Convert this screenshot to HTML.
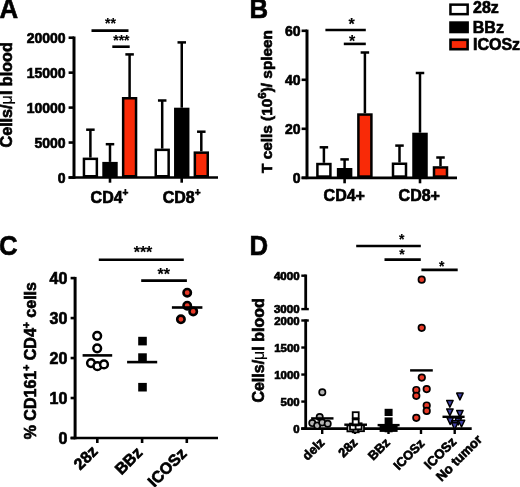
<!DOCTYPE html>
<html><head><meta charset="utf-8"><style>
html,body{margin:0;padding:0;background:#fff;overflow:hidden;width:520px;height:487px;}
svg{display:block;will-change:transform;}
text{font-family:"Liberation Sans",sans-serif;font-weight:bold;fill:#000;stroke:#000;stroke-width:0.65px;}
</style></head><body>
<svg width="520" height="487" viewBox="0 0 520 487">
<rect width="520" height="487" fill="#fff"/>
<text transform="translate(-0.6,17.7) scale(0.92,1)" font-size="28" text-anchor="start">A</text>
<line x1="74" y1="36.5" x2="74" y2="178.8" stroke="#000" stroke-width="3"/>
<line x1="68.6" y1="177.5" x2="74" y2="177.5" stroke="#000" stroke-width="2.6"/>
<text transform="translate(65.6,182.5)" font-size="14" text-anchor="end">0</text>
<line x1="68.6" y1="142.55" x2="74" y2="142.55" stroke="#000" stroke-width="2.6"/>
<text transform="translate(65.6,147.55)" font-size="14" text-anchor="end">5000</text>
<line x1="68.6" y1="107.6" x2="74" y2="107.6" stroke="#000" stroke-width="2.6"/>
<text transform="translate(65.6,112.6)" font-size="14" text-anchor="end">10000</text>
<line x1="68.6" y1="72.64999999999999" x2="74" y2="72.64999999999999" stroke="#000" stroke-width="2.6"/>
<text transform="translate(65.6,77.64999999999999)" font-size="14" text-anchor="end">15000</text>
<line x1="68.6" y1="37.69999999999999" x2="74" y2="37.69999999999999" stroke="#000" stroke-width="2.6"/>
<text transform="translate(65.6,42.69999999999999)" font-size="14" text-anchor="end">20000</text>
<line x1="68.6" y1="177.5" x2="218" y2="177.5" stroke="#000" stroke-width="2.7"/>
<line x1="110" y1="177.5" x2="110" y2="182.7" stroke="#000" stroke-width="2.6"/>
<line x1="181.7" y1="177.5" x2="181.7" y2="182.7" stroke="#000" stroke-width="2.6"/>
<line x1="90.4" y1="129.7" x2="90.4" y2="157.6" stroke="#000" stroke-width="2.5"/>
<line x1="86.15" y1="129.7" x2="94.65" y2="129.7" stroke="#000" stroke-width="2.5"/>
<rect x="83.95" y="158.85" width="12.90" height="17.40" fill="#fff" stroke="#000" stroke-width="2.5"/>
<line x1="110" y1="144.2" x2="110" y2="161.9" stroke="#000" stroke-width="2.5"/>
<line x1="105.75" y1="144.2" x2="114.25" y2="144.2" stroke="#000" stroke-width="2.5"/>
<rect x="102.30" y="161.90" width="15.40" height="15.60" fill="#000"/>
<line x1="129.6" y1="54.4" x2="129.6" y2="97" stroke="#000" stroke-width="2.5"/>
<line x1="125.35" y1="54.4" x2="133.85" y2="54.4" stroke="#000" stroke-width="2.5"/>
<rect x="123.15" y="98.25" width="12.90" height="78.00" fill="#f92a07" stroke="#000" stroke-width="2.5"/>
<line x1="162.2" y1="100.5" x2="162.2" y2="148.6" stroke="#000" stroke-width="2.5"/>
<line x1="157.95" y1="100.5" x2="166.45" y2="100.5" stroke="#000" stroke-width="2.5"/>
<rect x="155.75" y="149.85" width="12.90" height="26.40" fill="#fff" stroke="#000" stroke-width="2.5"/>
<line x1="181.75" y1="42.4" x2="181.75" y2="107.7" stroke="#000" stroke-width="2.5"/>
<line x1="177.5" y1="42.4" x2="186.0" y2="42.4" stroke="#000" stroke-width="2.5"/>
<rect x="174.05" y="107.70" width="15.40" height="69.80" fill="#000"/>
<line x1="201.3" y1="131.7" x2="201.3" y2="151.4" stroke="#000" stroke-width="2.5"/>
<line x1="197.05" y1="131.7" x2="205.55" y2="131.7" stroke="#000" stroke-width="2.5"/>
<rect x="194.85" y="152.65" width="12.90" height="23.60" fill="#f92a07" stroke="#000" stroke-width="2.5"/>
<line x1="91.5" y1="30.6" x2="128.5" y2="30.6" stroke="#000" stroke-width="2.6"/>
<line x1="112.3" y1="46.7" x2="129.7" y2="46.7" stroke="#000" stroke-width="2.6"/>
<text transform="translate(110.5,27.9)" font-size="14" text-anchor="middle" style="stroke-width:0.15px">**</text>
<text transform="translate(121.4,45.4)" font-size="14" text-anchor="middle" style="stroke-width:0.15px">***</text>
<text x="90.6" y="202.6" font-size="16">CD4<tspan font-size="10" dy="-7">+</tspan></text>
<text x="162.7" y="202.9" font-size="16">CD8<tspan font-size="10" dy="-7">+</tspan></text>
<text transform="translate(12.4,147.5) rotate(-90)" font-size="16.15" text-anchor="start">Cells/<tspan font-weight="normal" style="stroke-width:0.15px">μ</tspan>l blood</text>
<text transform="translate(249.6,17.7) scale(0.92,1)" font-size="28" text-anchor="start">B</text>
<line x1="307" y1="29.6" x2="307" y2="179.10000000000002" stroke="#000" stroke-width="3"/>
<line x1="301.6" y1="177.8" x2="307" y2="177.8" stroke="#000" stroke-width="2.6"/>
<text transform="translate(300.6,182.8)" font-size="14" text-anchor="end">0</text>
<line x1="301.6" y1="128.8" x2="307" y2="128.8" stroke="#000" stroke-width="2.6"/>
<text transform="translate(300.6,133.8)" font-size="14" text-anchor="end">20</text>
<line x1="301.6" y1="79.80000000000001" x2="307" y2="79.80000000000001" stroke="#000" stroke-width="2.6"/>
<text transform="translate(300.6,84.80000000000001)" font-size="14" text-anchor="end">40</text>
<line x1="301.6" y1="30.80000000000001" x2="307" y2="30.80000000000001" stroke="#000" stroke-width="2.6"/>
<text transform="translate(300.6,35.80000000000001)" font-size="14" text-anchor="end">60</text>
<line x1="301.6" y1="177.8" x2="457" y2="177.8" stroke="#000" stroke-width="2.7"/>
<line x1="344.6" y1="177.8" x2="344.6" y2="183.3" stroke="#000" stroke-width="2.6"/>
<line x1="420" y1="177.8" x2="420" y2="183.3" stroke="#000" stroke-width="2.6"/>
<line x1="323.9" y1="147.3" x2="323.9" y2="162.8" stroke="#000" stroke-width="2.5"/>
<line x1="319.65" y1="147.3" x2="328.15" y2="147.3" stroke="#000" stroke-width="2.5"/>
<rect x="317.40" y="164.05" width="13.00" height="12.50" fill="#fff" stroke="#000" stroke-width="2.5"/>
<line x1="344.6" y1="159.4" x2="344.6" y2="168" stroke="#000" stroke-width="2.5"/>
<line x1="340.35" y1="159.4" x2="348.85" y2="159.4" stroke="#000" stroke-width="2.5"/>
<rect x="336.85" y="168.00" width="15.50" height="9.80" fill="#000"/>
<line x1="364.9" y1="52.5" x2="364.9" y2="113.3" stroke="#000" stroke-width="2.5"/>
<line x1="360.65" y1="52.5" x2="369.15" y2="52.5" stroke="#000" stroke-width="2.5"/>
<rect x="358.40" y="114.55" width="13.00" height="62.00" fill="#f92a07" stroke="#000" stroke-width="2.5"/>
<line x1="399.5" y1="145.6" x2="399.5" y2="162.5" stroke="#000" stroke-width="2.5"/>
<line x1="395.25" y1="145.6" x2="403.75" y2="145.6" stroke="#000" stroke-width="2.5"/>
<rect x="393.00" y="163.75" width="13.00" height="12.80" fill="#fff" stroke="#000" stroke-width="2.5"/>
<line x1="420" y1="73" x2="420" y2="132.7" stroke="#000" stroke-width="2.5"/>
<line x1="415.75" y1="73" x2="424.25" y2="73" stroke="#000" stroke-width="2.5"/>
<rect x="412.25" y="132.70" width="15.50" height="45.10" fill="#000"/>
<line x1="440.5" y1="157.5" x2="440.5" y2="166.2" stroke="#000" stroke-width="2.5"/>
<line x1="436.25" y1="157.5" x2="444.75" y2="157.5" stroke="#000" stroke-width="2.5"/>
<rect x="434.00" y="167.45" width="13.00" height="9.10" fill="#f92a07" stroke="#000" stroke-width="2.5"/>
<line x1="325.4" y1="30" x2="365.8" y2="30" stroke="#000" stroke-width="2.6"/>
<line x1="343.8" y1="43.9" x2="365.8" y2="43.9" stroke="#000" stroke-width="2.6"/>
<text transform="translate(351.6,30)" font-size="16" text-anchor="middle" style="stroke-width:0.15px">*</text>
<text transform="translate(352,46.8)" font-size="16" text-anchor="middle" style="stroke-width:0.15px">*</text>
<text x="323.6" y="200.6" font-size="16">CD4+</text>
<text x="398.6" y="200.6" font-size="16">CD8+</text>
<text transform="translate(272,172.9) rotate(-90)" font-size="15.35">T cells (10<tspan font-size="11.5" dy="-6">6</tspan><tspan dy="6">)/ spleen</tspan></text>
<rect x="450.45" y="4.65" width="17.20" height="9.50" fill="#fff" stroke="#000" stroke-width="2.5"/>
<rect x="449.20" y="21.30" width="19.70" height="12.00" fill="#000"/>
<rect x="450.50" y="39.80" width="17.10" height="9.40" fill="#f92a07" stroke="#000" stroke-width="2.6"/>
<text transform="translate(473,13.1)" font-size="16" text-anchor="start">28z</text>
<text transform="translate(472.8,32.8)" font-size="16" text-anchor="start">BBz</text>
<text transform="translate(473,49.6)" font-size="16" text-anchor="start">ICOSz</text>
<text transform="translate(-0.9,255.4) scale(0.92,1)" font-size="28" text-anchor="start">C</text>
<line x1="75.1" y1="276.90000000000003" x2="75.1" y2="439.3" stroke="#000" stroke-width="3"/>
<line x1="70.6" y1="438.0" x2="75.1" y2="438.0" stroke="#000" stroke-width="2.6"/>
<text transform="translate(67.4,444.1)" font-size="16" text-anchor="end">0</text>
<line x1="70.6" y1="398.025" x2="75.1" y2="398.025" stroke="#000" stroke-width="2.6"/>
<text transform="translate(67.4,404.125)" font-size="16" text-anchor="end">10</text>
<line x1="70.6" y1="358.05" x2="75.1" y2="358.05" stroke="#000" stroke-width="2.6"/>
<text transform="translate(67.4,364.15000000000003)" font-size="16" text-anchor="end">20</text>
<line x1="70.6" y1="318.07500000000005" x2="75.1" y2="318.07500000000005" stroke="#000" stroke-width="2.6"/>
<text transform="translate(67.4,324.17500000000007)" font-size="16" text-anchor="end">30</text>
<line x1="70.6" y1="278.1" x2="75.1" y2="278.1" stroke="#000" stroke-width="2.6"/>
<text transform="translate(67.4,284.20000000000005)" font-size="16" text-anchor="end">40</text>
<line x1="70.6" y1="438" x2="218" y2="438" stroke="#000" stroke-width="2.7"/>
<line x1="97.3" y1="438" x2="97.3" y2="443" stroke="#000" stroke-width="2.6"/>
<line x1="142.1" y1="438" x2="142.1" y2="443" stroke="#000" stroke-width="2.6"/>
<line x1="186.8" y1="438" x2="186.8" y2="443" stroke="#000" stroke-width="2.6"/>
<circle cx="97.2" cy="335.8" r="3.85" fill="#fff" stroke="#000" stroke-width="2.5"/>
<circle cx="97.2" cy="348.3" r="3.85" fill="#fff" stroke="#000" stroke-width="2.5"/>
<circle cx="91" cy="363.1" r="3.85" fill="#fff" stroke="#000" stroke-width="2.5"/>
<circle cx="97.4" cy="366.2" r="3.85" fill="#fff" stroke="#000" stroke-width="2.5"/>
<circle cx="104" cy="364.4" r="3.85" fill="#fff" stroke="#000" stroke-width="2.5"/>
<line x1="82.6" y1="355.4" x2="112.2" y2="355.4" stroke="#000" stroke-width="2.6"/>
<rect x="138.20" y="336.80" width="8.60" height="8.60" fill="#000"/>
<rect x="138.20" y="353.30" width="8.60" height="8.60" fill="#000"/>
<rect x="138.20" y="382.90" width="8.60" height="8.60" fill="#000"/>
<line x1="127.1" y1="362.1" x2="157.2" y2="362.1" stroke="#000" stroke-width="2.6"/>
<circle cx="187.2" cy="292.7" r="3.70" fill="#e83a28" stroke="#000" stroke-width="2.6"/>
<circle cx="187.2" cy="305.7" r="3.70" fill="#e83a28" stroke="#000" stroke-width="2.6"/>
<circle cx="193.2" cy="311.4" r="3.70" fill="#e83a28" stroke="#000" stroke-width="2.6"/>
<circle cx="180.9" cy="319.3" r="3.70" fill="#e83a28" stroke="#000" stroke-width="2.6"/>
<line x1="171.9" y1="307.5" x2="202.4" y2="307.5" stroke="#000" stroke-width="2.6"/>
<line x1="98.8" y1="259.8" x2="183.8" y2="259.8" stroke="#000" stroke-width="2.6"/>
<line x1="141.2" y1="280.6" x2="186.9" y2="280.6" stroke="#000" stroke-width="2.6"/>
<text transform="translate(143,258.2)" font-size="16" text-anchor="middle" style="stroke-width:0.15px">***</text>
<text transform="translate(163.7,280.2)" font-size="16" text-anchor="middle" style="stroke-width:0.15px">**</text>
<text transform="translate(36.2,439.3) rotate(-90)" font-size="16">% CD161<tspan font-size="10.5" dy="-6.5">+</tspan><tspan dy="6.5"> CD4</tspan><tspan font-size="10.5" dy="-6.5">+</tspan><tspan dy="6.5"> cells</tspan></text>
<text transform="translate(98.6,452.4) rotate(-45)" font-size="16" text-anchor="end">28z</text>
<text transform="translate(143.4,453.6) rotate(-45)" font-size="16" text-anchor="end">BBz</text>
<text transform="translate(187.6,454.6) rotate(-45)" font-size="16" text-anchor="end">ICOSz</text>
<text transform="translate(249.6,255.3) scale(0.92,1)" font-size="28" text-anchor="start">D</text>
<line x1="305.7" y1="274.5" x2="305.7" y2="310" stroke="#000" stroke-width="2.8"/>
<line x1="301.3" y1="275.7" x2="305.7" y2="275.7" stroke="#000" stroke-width="2.4"/>
<line x1="301.3" y1="309.1" x2="308.8" y2="309.1" stroke="#000" stroke-width="2.4"/>
<text transform="translate(299.6,279.6) scale(1.1,1)" font-size="10.5" text-anchor="end">4000</text>
<text transform="translate(299.6,313) scale(1.1,1)" font-size="10.5" text-anchor="end">3000</text>
<line x1="305.7" y1="319.4" x2="305.7" y2="429.90000000000003" stroke="#000" stroke-width="2.8"/>
<line x1="301.3" y1="320.5" x2="308.8" y2="320.5" stroke="#000" stroke-width="2.4"/>
<line x1="301.3" y1="428.6" x2="305.7" y2="428.6" stroke="#000" stroke-width="2.4"/>
<text transform="translate(299.6,432.6) scale(1.06,1)" font-size="10.8" text-anchor="end">0</text>
<line x1="301.3" y1="401.57500000000005" x2="305.7" y2="401.57500000000005" stroke="#000" stroke-width="2.4"/>
<text transform="translate(299.6,405.57500000000005) scale(1.06,1)" font-size="10.8" text-anchor="end">500</text>
<line x1="301.3" y1="374.55" x2="305.7" y2="374.55" stroke="#000" stroke-width="2.4"/>
<text transform="translate(299.6,378.55) scale(1.06,1)" font-size="10.8" text-anchor="end">1000</text>
<line x1="301.3" y1="347.525" x2="305.7" y2="347.525" stroke="#000" stroke-width="2.4"/>
<text transform="translate(299.6,351.525) scale(1.06,1)" font-size="10.8" text-anchor="end">1500</text>
<text transform="translate(299.6,324.5) scale(1.06,1)" font-size="10.8" text-anchor="end">2000</text>
<line x1="301.2" y1="428.6" x2="471.7" y2="428.6" stroke="#000" stroke-width="2.7"/>
<line x1="322.2" y1="428.6" x2="322.2" y2="434" stroke="#000" stroke-width="2.4"/>
<line x1="355" y1="428.6" x2="355" y2="434" stroke="#000" stroke-width="2.4"/>
<line x1="388.5" y1="428.6" x2="388.5" y2="434" stroke="#000" stroke-width="2.4"/>
<line x1="421" y1="428.6" x2="421" y2="434" stroke="#000" stroke-width="2.4"/>
<line x1="454.7" y1="428.6" x2="454.7" y2="434" stroke="#000" stroke-width="2.4"/>
<circle cx="322.3" cy="392.2" r="3.15" fill="#b4b4b4" stroke="#000" stroke-width="1.7"/>
<circle cx="319.7" cy="417" r="3.15" fill="#b4b4b4" stroke="#000" stroke-width="1.7"/>
<circle cx="312.3" cy="423.1" r="3.15" fill="#b4b4b4" stroke="#000" stroke-width="1.7"/>
<circle cx="317.2" cy="425.6" r="3.15" fill="#b4b4b4" stroke="#000" stroke-width="1.7"/>
<circle cx="322.2" cy="422.5" r="3.15" fill="#b4b4b4" stroke="#000" stroke-width="1.7"/>
<circle cx="327.7" cy="423.7" r="3.15" fill="#b4b4b4" stroke="#000" stroke-width="1.7"/>
<line x1="311.1" y1="418.4" x2="333.5" y2="418.4" stroke="#000" stroke-width="2.4"/>
<rect x="352.70" y="426.30" width="6.00" height="6.00" fill="#fff" stroke="#000" stroke-width="1.8"/>
<rect x="347.40" y="425.40" width="6.00" height="6.00" fill="#fff" stroke="#000" stroke-width="1.8"/>
<rect x="358.00" y="425.20" width="6.00" height="6.00" fill="#fff" stroke="#000" stroke-width="1.8"/>
<rect x="350.00" y="423.60" width="6.00" height="6.00" fill="#fff" stroke="#000" stroke-width="1.8"/>
<rect x="355.60" y="423.30" width="6.00" height="6.00" fill="#fff" stroke="#000" stroke-width="1.8"/>
<rect x="352.70" y="419.40" width="6.00" height="6.00" fill="#fff" stroke="#000" stroke-width="1.8"/>
<rect x="352.70" y="412.20" width="6.00" height="6.00" fill="#fff" stroke="#000" stroke-width="1.8"/>
<line x1="344.3" y1="424.7" x2="367" y2="424.7" stroke="#000" stroke-width="2.4"/>
<rect x="384.60" y="408.80" width="8.00" height="7.20" fill="#000"/>
<rect x="384.60" y="417.40" width="8.00" height="7.20" fill="#000"/>
<rect x="379.60" y="424.70" width="8.00" height="7.20" fill="#000"/>
<rect x="389.60" y="424.70" width="8.00" height="7.20" fill="#000"/>
<rect x="384.60" y="425.10" width="8.00" height="7.20" fill="#000"/>
<line x1="377.6" y1="425.1" x2="399.6" y2="425.1" stroke="#000" stroke-width="2.4"/>
<circle cx="421.7" cy="279.7" r="3.25" fill="#e83a28" stroke="#000" stroke-width="1.7"/>
<circle cx="421.7" cy="327.8" r="3.25" fill="#e83a28" stroke="#000" stroke-width="1.7"/>
<circle cx="421.8" cy="377.6" r="3.25" fill="#e83a28" stroke="#000" stroke-width="1.7"/>
<circle cx="416.3" cy="390" r="3.25" fill="#e83a28" stroke="#000" stroke-width="1.7"/>
<circle cx="426.7" cy="389.1" r="3.25" fill="#e83a28" stroke="#000" stroke-width="1.7"/>
<circle cx="416.3" cy="395.8" r="3.25" fill="#e83a28" stroke="#000" stroke-width="1.7"/>
<circle cx="426.7" cy="405.5" r="3.25" fill="#e83a28" stroke="#000" stroke-width="1.7"/>
<circle cx="426.7" cy="410.9" r="3.25" fill="#e83a28" stroke="#000" stroke-width="1.7"/>
<circle cx="416.3" cy="417.8" r="3.25" fill="#e83a28" stroke="#000" stroke-width="1.7"/>
<line x1="410.1" y1="370.4" x2="432.8" y2="370.4" stroke="#000" stroke-width="2.4"/>
<path d="M456.70,393.10 L463.10,393.10 L459.90,399.90 Z" fill="#4040a8" stroke="#000" stroke-width="1.5" stroke-linejoin="round"/>
<path d="M446.70,400.50 L453.10,400.50 L449.90,407.30 Z" fill="#4040a8" stroke="#000" stroke-width="1.5" stroke-linejoin="round"/>
<path d="M446.70,408.90 L453.10,408.90 L449.90,415.70 Z" fill="#4040a8" stroke="#000" stroke-width="1.5" stroke-linejoin="round"/>
<path d="M456.70,410.40 L463.10,410.40 L459.90,417.20 Z" fill="#4040a8" stroke="#000" stroke-width="1.5" stroke-linejoin="round"/>
<path d="M447.00,417.70 L453.40,417.70 L450.20,424.50 Z" fill="#4040a8" stroke="#000" stroke-width="1.5" stroke-linejoin="round"/>
<path d="M455.10,418.20 L461.50,418.20 L458.30,425.00 Z" fill="#4040a8" stroke="#000" stroke-width="1.5" stroke-linejoin="round"/>
<path d="M458.30,420.20 L464.70,420.20 L461.50,427.00 Z" fill="#4040a8" stroke="#000" stroke-width="1.5" stroke-linejoin="round"/>
<path d="M451.80,420.70 L458.20,420.70 L455.00,427.50 Z" fill="#4040a8" stroke="#000" stroke-width="1.5" stroke-linejoin="round"/>
<path d="M451.50,422.70 L457.90,422.70 L454.70,429.50 Z" fill="#4040a8" stroke="#000" stroke-width="1.5" stroke-linejoin="round"/>
<line x1="442.5" y1="416.8" x2="464.6" y2="416.8" stroke="#000" stroke-width="2.4"/>
<line x1="356.2" y1="246" x2="420.8" y2="246" stroke="#000" stroke-width="2.6"/>
<line x1="384.5" y1="259.6" x2="420.8" y2="259.6" stroke="#000" stroke-width="2.6"/>
<line x1="421.4" y1="269.9" x2="457.7" y2="269.9" stroke="#000" stroke-width="2.6"/>
<text transform="translate(401.7,243.8)" font-size="14" text-anchor="middle" style="stroke-width:0.15px">*</text>
<text transform="translate(401.9,258.8)" font-size="14" text-anchor="middle" style="stroke-width:0.15px">*</text>
<text transform="translate(441.8,271.3)" font-size="14" text-anchor="middle" style="stroke-width:0.15px">*</text>
<text transform="translate(264.1,402.6) rotate(-90)" font-size="16" text-anchor="start">Cells/<tspan font-weight="normal" style="stroke-width:0.15px">μ</tspan>l blood</text>
<text transform="translate(325.2,443.5) rotate(-45)" font-size="12.8" text-anchor="end">delz</text>
<text transform="translate(358.2,443.5) rotate(-45)" font-size="12.8" text-anchor="end">28z</text>
<text transform="translate(390.9,443.5) rotate(-45)" font-size="12.8" text-anchor="end">BBz</text>
<text transform="translate(425.3,444.2) rotate(-45)" font-size="12.8" text-anchor="end">ICOSz</text>
<text transform="translate(429.6,470) rotate(-45)" font-size="13.2">ICOSz<tspan x="0" dy="16.8">No tumor</tspan></text>
</svg>
</body></html>
